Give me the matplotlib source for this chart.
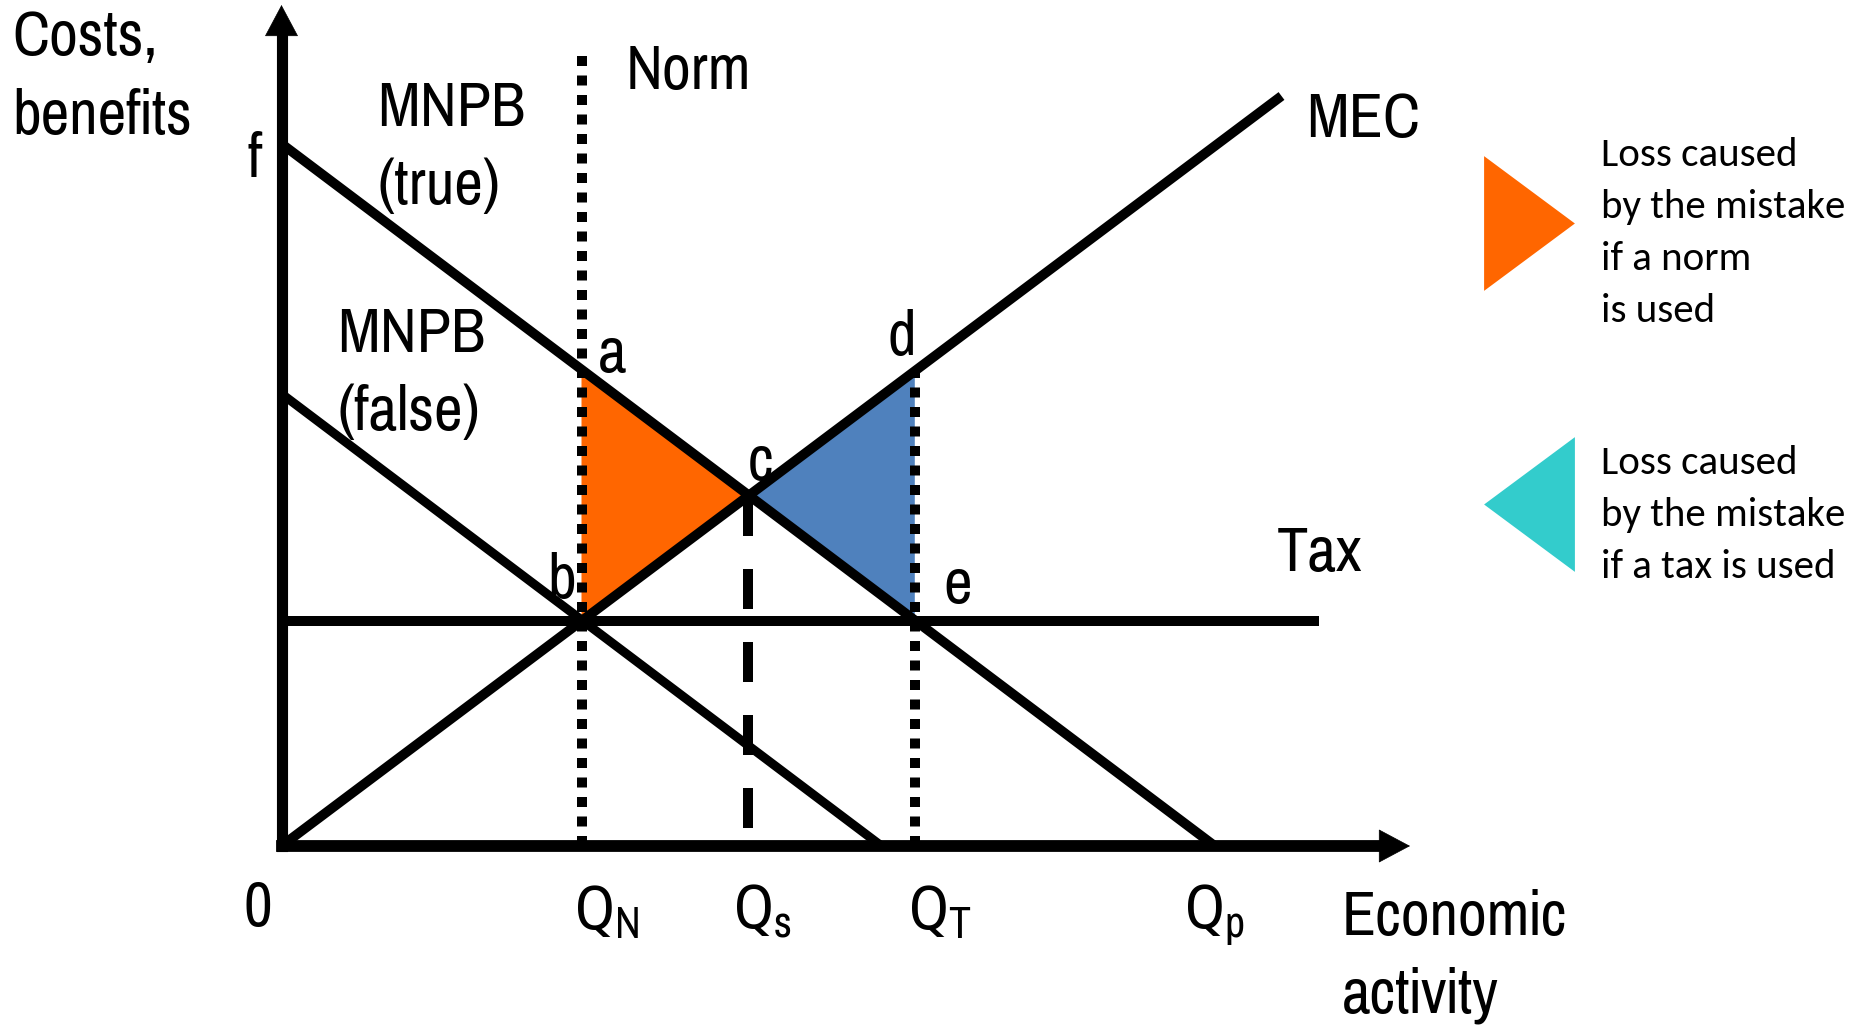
import matplotlib
matplotlib.use("Agg")
import matplotlib.pyplot as plt
from matplotlib.lines import Line2D
from matplotlib.path import Path

# ---------------- data ----------------
# quantities on the x axis
q_norm = 3.0        # Q_N
q_social = 4.667    # Q_s
q_tax = 6.333       # Q_T
q_private = 9.333   # Q_p

# curves: (x, y) end points
mnpb_true_x = [0.03, q_private]
mnpb_true_y = [7.0, 0.0]
mnpb_false_x = [0.03, 6.0]
mnpb_false_y = [4.5, 0.0]
mec_x = [0.0, 10.0]
mec_y = [0.0, 7.5]
tax_x = [0.065, 10.37]
tax_y = [2.25, 2.25]

# key points
pt_a = (q_norm, 4.75)
pt_b = (q_norm, 2.25)
pt_c = (q_social, 3.5)
pt_d = (q_tax, 4.75)
pt_e = (q_tax, 2.25)
norm_top = 7.99

# axes extents
x_axis_end = 11.285
y_axis_end = 8.41

q_labels = [r"Q$_{\mathrm{N}}$", r"Q$_{\mathrm{s}}$", r"Q$_{\mathrm{T}}$", r"Q$_{\mathrm{p}}$"]
legend_labels = ["Loss caused\nby the mistake\nif a norm\nis used",
                 "Loss caused\nby the mistake\nif a tax is used"]

ORANGE = "#FF6600"
BLUE = "#4F81BD"
CYAN = "#33CCCC"

# ---------------- style ----------------
MAIN_FONT = ["Pragati Narrow", "Roboto Condensed", "Archivo Narrow",
             "IBM Plex Sans Condensed", "DejaVu Sans"]
LEG_FONT = ["Carlito", "Lato", "DejaVu Sans"]
plt.rcParams["font.family"] = MAIN_FONT
plt.rcParams["mathtext.fontset"] = "custom"
plt.rcParams["mathtext.rm"] = "Pragati Narrow"
plt.rcParams["mathtext.it"] = "Pragati Narrow"

FS = 49

fig = plt.figure(figsize=(18.62, 10.26), dpi=100)
ax = fig.add_axes([0, 0, 1, 1])
ax.set_xlim(-2.815, 15.805)
ax.set_ylim(-1.80, 8.46)
ax.axis("off")

# ---------------- shaded triangles ----------------
ax.fill([pt_a[0], pt_b[0], pt_c[0]], [pt_a[1], pt_b[1], pt_c[1]],
        color=ORANGE, lw=0, zorder=1)
ax.fill([pt_c[0], pt_d[0], pt_e[0]], [pt_c[1], pt_d[1], pt_e[1]],
        color=BLUE, lw=0, zorder=1)

# ---------------- vertical guides ----------------
ax.plot([q_norm, q_norm], [0, norm_top], color="k", lw=7.2,
        linestyle=(0, (1.0, 0.95)), dash_capstyle="butt", zorder=2)
ax.plot([q_tax, q_tax], [0, pt_d[1]], color="k", lw=7.2,
        linestyle=(0, (1.0, 0.95)), dash_capstyle="butt", zorder=2)
ax.plot([q_social, q_social], [pt_c[1], 0], color="k", lw=7.2,
        linestyle=(0, (4.0, 3.3)), dash_capstyle="butt", zorder=2)

# ---------------- curves ----------------
ax.plot(mnpb_true_x, mnpb_true_y, color="k", lw=7.0, solid_capstyle="butt", zorder=3)
ax.plot(mnpb_false_x, mnpb_false_y, color="k", lw=6.5, solid_capstyle="butt", zorder=3)
ax.plot(mec_x, mec_y, color="k", lw=7.0, solid_capstyle="butt", zorder=3)
ax.plot(tax_x, tax_y, color="k", lw=7.2, solid_capstyle="butt", zorder=3)

# ---------------- axes with arrows ----------------
HL = 0.30  # head length in data units (approx 30 px)
ax.plot([0, 0], [0, y_axis_end - HL + 0.02], color="k", lw=8,
        solid_capstyle="projecting", zorder=4)
ax.plot([0, x_axis_end - HL + 0.02], [0, 0], color="k", lw=8.5,
        solid_capstyle="projecting", zorder=4)
arrow_kw = dict(arrowstyle="-|>,head_length=21.6,head_width=11.5",
                color="k", lw=0.5, mutation_scale=1, shrinkA=0, shrinkB=0)
ax.annotate("", xy=(0, y_axis_end), xytext=(0, y_axis_end - 0.5),
            arrowprops=arrow_kw, zorder=5)
ax.annotate("", xy=(x_axis_end, 0), xytext=(x_axis_end - 0.5, 0),
            arrowprops=arrow_kw, zorder=5)

# ---------------- labels (y = baseline of last line) ----------------
txt = dict(fontsize=FS, ha="left", va="baseline", color="k")
ax.text(-2.695, 7.12, "Costs,\nbenefits", linespacing=1.48, **txt)
ax.text(-0.345, 6.69, "f", **txt)
ax.text(0.955, 6.42, "MNPB\n(true)", linespacing=1.46, **txt)
ax.text(0.555, 4.16, "MNPB\n(false)", linespacing=1.46, **txt)
ax.text(3.445, 7.57, "Norm", **txt)
ax.text(10.245, 7.09, "MEC", **txt)
ax.text(9.955, 2.75, "Tax", **txt)
ax.text(3.165, 4.74, "a", **txt)
ax.text(2.655, 2.48, "b", **txt)
ax.text(4.665, 3.66, "c", **txt)
ax.text(6.065, 4.91, "d", **txt)
ax.text(6.615, 2.43, "e", **txt)
ax.text(-0.385, -0.80, "0", **txt)
for xq, lab in zip([2.925, 4.515, 6.265, 9.025], q_labels):
    ax.text(xq, -0.83, lab, **txt)
ax.text(10.605, -1.67, "Economic\nactivity", linespacing=1.46, **txt)

# ---------------- legend ----------------
tri_right = Path([(-0.337, -0.5), (0.337, 0.0), (-0.337, 0.5), (-0.337, -0.5)],
                 [Path.MOVETO, Path.LINETO, Path.LINETO, Path.CLOSEPOLY])
tri_left = Path([(0.337, -0.5), (-0.337, 0.0), (0.337, 0.5), (0.337, -0.5)],
                [Path.MOVETO, Path.LINETO, Path.LINETO, Path.CLOSEPOLY])

LEG_FS = 29.5
leg_kw = dict(loc="upper left", bbox_transform=fig.transFigure, frameon=False,
              prop=dict(family=LEG_FONT, size=LEG_FS),
              handlelength=1.86, handletextpad=0.84, handleheight=2.5,
              borderpad=0, borderaxespad=0)
h1 = Line2D([], [], ls="none", marker=tri_right, ms=97, mfc=ORANGE, mec="none", mew=0)
h2 = Line2D([], [], ls="none", marker=tri_left, ms=97, mfc=CYAN, mec="none", mew=0)
leg1 = ax.legend([h1], [legend_labels[0]], bbox_to_anchor=(0.8005, 0.8660), **leg_kw)
for t in leg1.get_texts():
    t.set_linespacing(1.55)
ax.add_artist(leg1)
leg2 = ax.legend([h2], [legend_labels[1]], bbox_to_anchor=(0.8005, 0.5660), **leg_kw)
for t in leg2.get_texts():
    t.set_linespacing(1.55)

fig.savefig("out.png", dpi=100)
